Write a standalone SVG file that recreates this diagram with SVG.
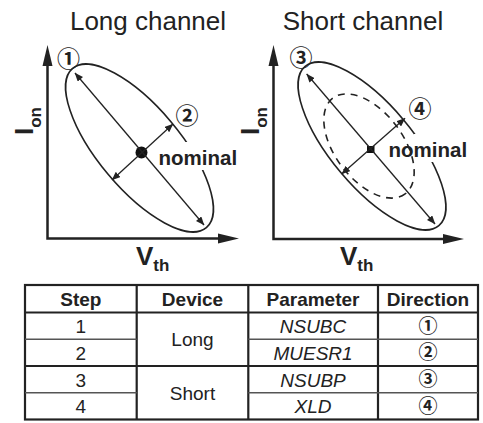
<svg xmlns="http://www.w3.org/2000/svg" width="483" height="423" viewBox="0 0 483 423">
<defs>
<style>
.title{font-family:"Liberation Sans",Arial,sans-serif;font-size:26px;fill:#222;text-anchor:middle}
.axlab{font-family:"Liberation Sans",Arial,sans-serif;font-weight:bold;font-size:26px;fill:#222}
.sub{font-size:17px}
.nom{font-family:"Liberation Sans",Arial,sans-serif;font-weight:bold;font-size:20.5px;fill:#222}
.circ{font-family:"Noto Sans CJK JP","DejaVu Sans",sans-serif;font-weight:bold;font-size:23px;fill:#222;text-anchor:middle}
.axis{stroke:#222;stroke-width:2.5;fill:none}
.ell{stroke:#222;stroke-width:1.6;fill:none}
.dash{stroke:#222;stroke-width:1.6;fill:none;stroke-dasharray:7 6}
.arr{stroke:#222;stroke-width:1.3;fill:none;marker-start:url(#ah);marker-end:url(#ah)}
.head{fill:#222}
.th{font-family:"Liberation Sans",Arial,sans-serif;font-weight:bold;font-size:19px;fill:#222;text-anchor:middle}
.td{font-family:"Liberation Sans",Arial,sans-serif;font-size:19px;fill:#222;text-anchor:middle}
.it{font-style:italic}
.tc{font-family:"Noto Sans CJK JP","DejaVu Sans",sans-serif;font-weight:bold;font-size:19px;fill:#222;text-anchor:middle}
.thick{stroke:#222;stroke-width:2.2;fill:none}
.thin{stroke:#555;stroke-width:1.3;fill:none}
</style>
<marker id="ah" viewBox="0 0 10 8" refX="9.5" refY="4" markerWidth="9" markerHeight="7" markerUnits="userSpaceOnUse" orient="auto-start-reverse">
<path d="M0,0 L10,4 L0,8 Z" fill="#222"/>
</marker>
</defs>

<g id="title-long"><text class="title" x="148" y="30">Long channel</text></g>
<g id="title-short"><text class="title" x="363" y="30">Short channel</text></g>

<g id="plot-long">
<path class="axis" d="M47.5,64 V238.5 H220"/>
<path class="head" d="M47.5,45 L42.5,66 L52.5,66 Z"/>
<path class="head" d="M239,238.5 L218,233.5 L218,243.5 Z"/>
<text class="axlab" transform="translate(33,135) rotate(-90)">I<tspan class="sub" dy="8">on</tspan></text>
<text class="axlab" x="136" y="265">V<tspan class="sub" dy="6">th</tspan></text>
<ellipse class="ell" cx="139.5" cy="148" rx="104" ry="41" transform="rotate(50 139.5 148)"/>
<rect x="185" y="142" width="27" height="28" fill="#fff"/>
<circle cx="141.5" cy="152.5" r="6" fill="#111"/>
<text class="nom" x="158.5" y="165">nominal</text>
<text class="circ" x="68.5" y="67">①</text>
<text class="circ" x="187" y="124">②</text>
</g>

<g id="plot-short">
<path class="axis" d="M273.5,64 V239 H445"/>
<path class="head" d="M273.5,45 L268.5,66 L278.5,66 Z"/>
<path class="head" d="M464,239 L443,234 L443,244 Z"/>
<text class="axlab" transform="translate(258.5,135) rotate(-90)">I<tspan class="sub" dy="8">on</tspan></text>
<text class="axlab" x="340" y="265">V<tspan class="sub" dy="6">th</tspan></text>
<ellipse class="ell" cx="372" cy="146" rx="104" ry="41" transform="rotate(50 372 146)"/>
<ellipse class="dash" cx="369" cy="146" rx="60" ry="34" transform="rotate(53 369 146)"/>
<rect x="414" y="134" width="24" height="28" fill="#fff"/>
<rect x="367" y="146" width="7.5" height="7" fill="#111"/>
<text class="nom" x="388.5" y="157">nominal</text>
<text class="circ" x="301" y="65.5">③</text>
<text class="circ" x="420" y="117">④</text>
</g>

<g id="connectors">
<line class="arr" x1="75" y1="73" x2="204" y2="225"/>
<line class="arr" x1="112" y1="180" x2="173" y2="124"/>
<line class="arr" x1="306.7" y1="74" x2="435" y2="224"/>
<line class="arr" x1="341.7" y1="174" x2="405" y2="118.3"/>
</g>

<g id="table">
<rect class="thick" x="25" y="285" width="453" height="134.5"/>
<path class="thick" d="M25,312.5 H478 M25,366 H478 M136.7,285 V419.5 M248.3,285 V419.5 M378,285 V419.5"/>
<path class="thin" d="M25,339.25 H136.7 M248.3,339.25 H478 M25,392.75 H136.7 M248.3,392.75 H478"/>
<text class="th" x="80.8" y="305.5">Step</text>
<text class="th" x="192.5" y="305.5">Device</text>
<text class="th" x="313" y="305.5">Parameter</text>
<text class="th" x="428" y="305.5">Direction</text>
<text class="td" x="80.8" y="333">1</text>
<text class="td" x="80.8" y="359.7">2</text>
<text class="td" x="80.8" y="386.5">3</text>
<text class="td" x="80.8" y="413.2">4</text>
<text class="td" x="192.5" y="346">Long</text>
<text class="td" x="192.5" y="399.5">Short</text>
<text class="td it" x="313" y="333">NSUBC</text>
<text class="td it" x="313" y="359.7">MUESR1</text>
<text class="td it" x="313" y="386.5">NSUBP</text>
<text class="td it" x="313" y="413.2">XLD</text>
<text class="tc" x="428" y="332.5">①</text>
<text class="tc" x="428" y="359.2">②</text>
<text class="tc" x="428" y="386">③</text>
<text class="tc" x="428" y="412.7">④</text>
</g>
</svg>
